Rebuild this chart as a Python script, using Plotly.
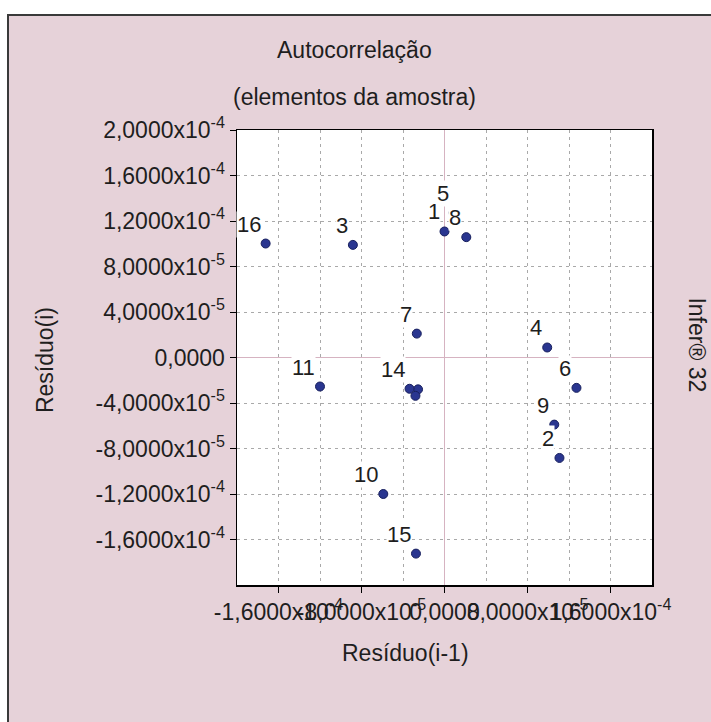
import plotly.graph_objects as go

# ---- data ----
point_labels = ["1", "2", "3", "4", "5", "6", "7", "8", "9", "10", "11", "12", "13", "14", "15", "16"]
# labels that the original software hid behind overlapping ones
hidden_labels = ["12", "13"]
residuo_i_menos_1 = [0.0, 1.108e-4, -8.83e-5, 9.9e-5, 8.8e-6, 1.272e-4, -2.67e-5, 2.1e-5,
                     1.058e-4, -5.9e-5, -1.2e-4, -2.55e-5, -2.8e-5, -3.37e-5, -2.75e-5, -1.724e-4]
residuo_i = [1.108e-4, -8.83e-5, 9.9e-5, 8.8e-6, 1.272e-4, -2.67e-5, 2.1e-5, 1.058e-4,
             -5.9e-5, -1.2e-4, -2.55e-5, -2.8e-5, -3.37e-5, -2.75e-5, -1.724e-4, 1.002e-4]

y_tick_vals = [2e-4, 1.6e-4, 1.2e-4, 8e-5, 4e-5, 0.0, -4e-5, -8e-5, -1.2e-4, -1.6e-4]
y_tick_text = ["2,0000x10<sup>-4</sup>", "1,6000x10<sup>-4</sup>", "1,2000x10<sup>-4</sup>",
               "8,0000x10<sup>-5</sup>", "4,0000x10<sup>-5</sup>", "0,0000",
               "-4,0000x10<sup>-5</sup>", "-8,0000x10<sup>-5</sup>",
               "-1,2000x10<sup>-4</sup>", "-1,6000x10<sup>-4</sup>"]
x_tick_vals = [-1.6e-4, -8e-5, 0.0, 8e-5, 1.6e-4]
x_tick_text = ["-1,6000x10<sup>-4</sup>", "-8,0000x10<sup>-5</sup>", "0,0000",
               "8,0000x10<sup>-5</sup>", "1,6000x10<sup>-4</sup>"]
grid_vals = [-2e-4, -1.6e-4, -1.2e-4, -8e-5, -4e-5, 0.0, 4e-5, 8e-5, 1.2e-4, 1.6e-4, 2e-4]

title_text = "Autocorrelação"
subtitle_text = "(elementos da amostra)"
x_title = "Resíduo(i-1)"
y_title = "Resíduo(i)"
side_text = "Infer® 32"

# ---- styling ----
FONT = "Liberation Sans, Arial, sans-serif"
FS = 23
TXT = "#1e1e1e"
PINK = "#e6d2d9"
GRID = "#a9a9a9"

fig = go.Figure()
fig.add_trace(go.Scatter(
    x=residuo_i_menos_1, y=residuo_i, mode="markers",
    marker=dict(symbol="circle", size=9, color="#2a3690",
                line=dict(color="#18205e", width=1)),
    hoverinfo="skip", showlegend=False,
))

annotations = []
for xv, yv, lab in zip(residuo_i_menos_1, residuo_i, point_labels):
    if lab in hidden_labels:
        continue
    annotations.append(dict(
        x=xv, y=yv, xref="x", yref="y", text=lab, showarrow=False,
        xanchor="right", yanchor="bottom", xshift=-4, yshift=6,
        bgcolor="white", borderpad=0,
        font=dict(family=FONT, size=FS - 1, color=TXT),
    ))

annotations += [
    dict(x=0.284, y=1.176, xref="paper", yref="paper", text=title_text, showarrow=False,
         xanchor="center", yanchor="middle", font=dict(family=FONT, size=FS, color=TXT)),
    dict(x=0.284, y=1.072, xref="paper", yref="paper", text=subtitle_text, showarrow=False,
         xanchor="center", yanchor="middle", font=dict(family=FONT, size=FS, color=TXT)),
    dict(x=0.407, y=-0.150, xref="paper", yref="paper", text=x_title, showarrow=False,
         xanchor="center", yanchor="middle", font=dict(family=FONT, size=FS, color=TXT)),
    dict(x=-0.463, y=0.494, xref="paper", yref="paper", text=y_title, showarrow=False,
         textangle=-90, xanchor="center", yanchor="middle",
         font=dict(family=FONT, size=FS, color=TXT)),
    dict(x=1.108, y=0.527, xref="paper", yref="paper", text=side_text, showarrow=False,
         textangle=90, xanchor="center", yanchor="middle",
         font=dict(family=FONT, size=FS, color=TXT)),
]

shapes = [
    dict(type="rect", xref="paper", yref="paper", x0=-0.5518, x1=1.17, y0=-0.32, y1=1.2527,
         fillcolor=PINK, line=dict(color="#3a3a3a", width=2), layer="below"),
    dict(type="rect", xref="paper", yref="paper", x0=0, x1=1, y0=0, y1=1,
         fillcolor="white", line=dict(width=0), layer="below"),
]

axis_common = dict(
    showline=True, linecolor="black", linewidth=1.5, mirror=True,
    ticks="outside", ticklen=6, tickcolor="black", tickwidth=1,
    showgrid=True, gridcolor=GRID, gridwidth=1, griddash="3px,4px",
    zeroline=True, zerolinecolor="#d6b3c1", zerolinewidth=1,
    tickfont=dict(family=FONT, size=FS, color=TXT),
    tickmode="array", fixedrange=True,
)

fig.update_layout(
    width=711, height=722,
    margin=dict(l=237, r=59, t=130, b=137),
    paper_bgcolor="white", plot_bgcolor="rgba(0,0,0,0)",
    xaxis=dict(range=[-2e-4, 2e-4], tickvals=x_tick_vals, ticktext=x_tick_text,
               tickangle=0,
               minor=dict(tickvals=grid_vals, showgrid=True, gridcolor=GRID,
                          griddash="3px,4px", ticklen=0),
               **axis_common),
    yaxis=dict(range=[-2e-4, 2e-4], tickvals=y_tick_vals, ticktext=y_tick_text,
               **axis_common),
    annotations=annotations,
    shapes=shapes,
    showlegend=False,
)

fig.write_html(
    "out.html",
    config={"displayModeBar": False, "staticPlot": True},
    post_script="document.body.style.margin='0';document.body.style.overflow='hidden';",
)
